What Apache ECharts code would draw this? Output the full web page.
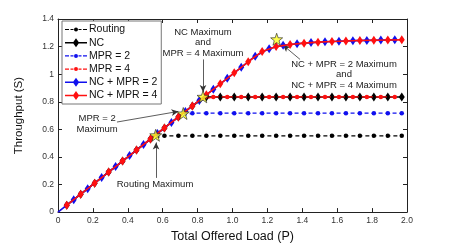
<!DOCTYPE html>
<html><head><meta charset="utf-8">
<script src="https://cdn.jsdelivr.net/npm/echarts@6/dist/echarts.min.js"></script>
<style>html,body{margin:0;padding:0;background:#fff}#c{width:450px;height:248px}</style>
</head><body><div id="c"></div>
<script>
// ---- data ----
const loadA = [0.05,0.13,0.21,0.29,0.37,0.45,0.53,0.61,0.69,0.77,0.85,0.93,1.01,1.09,1.17,1.25,1.33,1.41,1.49,1.57,1.65,1.73,1.81,1.89,1.97];
const loadB = [0,0.09,0.17,0.25,0.33,0.41,0.49,0.57,0.65,0.73,0.81,0.89,0.97,1.05,1.13,1.21,1.29,1.37,1.45,1.53,1.61,1.69,1.77,1.85,1.93];
const routing = [0.05,0.13,0.21,0.29,0.37,0.45,0.53,0.553,0.553,0.553,0.553,0.553,0.553,0.553,0.553,0.553,0.553,0.553,0.553,0.553,0.553,0.553,0.553,0.553,0.553];
const nc      = [0.05,0.13,0.21,0.29,0.37,0.45,0.53,0.61,0.69,0.77,0.835,0.835,0.835,0.835,0.835,0.835,0.835,0.835,0.835,0.835,0.835,0.835,0.835,0.835,0.835];
const mpr2    = [0.05,0.13,0.21,0.29,0.37,0.45,0.53,0.61,0.69,0.717,0.717,0.717,0.717,0.717,0.717,0.717,0.717,0.717,0.717,0.717,0.717,0.717,0.717,0.717,0.717];
const mpr4    = [0,0.09,0.17,0.25,0.33,0.41,0.49,0.57,0.65,0.73,0.81,0.835,0.835,0.835,0.835,0.835,0.835,0.835,0.835,0.835,0.835,0.835,0.835,0.835,0.835];
const ncMpr2  = [0,0.09,0.17,0.25,0.33,0.41,0.49,0.57,0.65,0.73,0.81,0.89,0.97,1.05,1.13,1.185,1.21,1.221,1.229,1.235,1.239,1.243,1.245,1.247,1.249];
const ncMpr4  = [0.05,0.13,0.21,0.29,0.37,0.45,0.53,0.61,0.69,0.77,0.85,0.93,1.01,1.09,1.165,1.20,1.215,1.225,1.232,1.237,1.241,1.244,1.246,1.248,1.249];
const maxPoints = [[0.56,0.557],[0.718,0.715],[0.831,0.836],[1.253,1.253]];
const xTickLabels = ['0','0.2','0.4','0.6','0.8','1.0','1.2','1.4','1.6','1.8','2.0'];
const yTickLabels = ['0','0.2','0.4','0.6','0.8','1','1.2','1.4'];
const seriesNames = ['Routing','NC','MPR = 2','MPR = 4','NC + MPR = 2','NC + MPR = 4'];
const annotations = [
  {text:'NC Maximum\nand\nMPR = 4 Maximum', at:[0.831,1.229], from:[0.831,1.107], to:[0.831,0.87]},
  {text:'NC + MPR = 2 Maximum\nand\nNC + MPR = 4 Maximum', at:[1.639,0.995], from:[1.387,1.107], to:[1.289,1.211]},
  {text:'MPR = 2\nMaximum', at:[0.224,0.639], from:[0.338,0.653], to:[0.69,0.73]},
  {text:'Routing Maximum', at:[0.556,0.199], from:[0.562,0.248], to:[0.562,0.505]}
];
// ---- chart ----
const FONT = 'Liberation Sans';
const pair = (xs, ys) => xs.map((x,i)=> x === 0 ? {value:[x, ys[i]], symbol:'none'} : [x, ys[i]]);
const STAR = 'path://M0,-10 L2.35,-3.24 L9.51,-3.09 L3.8,1.24 L5.88,8.09 L0,4 L-5.88,8.09 L-3.8,1.24 L-9.51,-3.09 L-2.35,-3.24 Z';
const BOX = 'M0,0 L0.01,0 Z M22,10 L21.99,10 Z ';
const ICON_DASH = 'path://' + BOX + 'M0,4.4 L4,4.4 L4,5.6 L0,5.6 Z M5.5,4.4 L8.5,4.4 L8.5,5.6 L5.5,5.6 Z M13.5,4.4 L16.5,4.4 L16.5,5.6 L13.5,5.6 Z M18,4.4 L22,4.4 L22,5.6 L18,5.6 Z M13,5 A2,2 0 1,1 9,5 A2,2 0 1,1 13,5 Z';
const ICON_SOLID = 'path://' + BOX + 'M0,4.2 L22,4.2 L22,5.8 L0,5.8 Z M11,0.5 L14.2,5 L11,9.5 L7.8,5 Z';
const chart = echarts.init(document.getElementById('c'), null, {renderer:'canvas'});
function lineSeries(name, data, color, dashed, symbol, size, z){
  return {name, type:'line', data, z, symbol, symbolSize:size, showSymbol:true,
    lineStyle:{color, width: dashed?1.2:1.6, type: dashed?[4,3]:'solid'},
    itemStyle:{color, borderWidth:0}, animation:false, silent:true};
}
const axisCommon = {
  axisLine:{show:true, onZero:false, lineStyle:{color:'#222', width:1}},
  axisTick:{show:true, inside:true, length:4, lineStyle:{color:'#222'}},
  splitLine:{show:false}
};
const legendIcons = [ICON_DASH, ICON_SOLID, ICON_DASH, ICON_DASH, ICON_SOLID, ICON_SOLID];
chart.setOption({
  animation:false,
  textStyle:{fontFamily:FONT},
  grid:{left:58, right:43, top:19, bottom:28, containLabel:false},
  xAxis:[
    Object.assign({type:'value', min:0, max:2, interval:0.2, position:'bottom',
      name:'Total Offered Load (P)', nameLocation:'middle', nameGap:17,
      nameTextStyle:{fontSize:12.5, color:'#111', fontFamily:FONT},
      axisLabel:{fontSize:8.5, color:'#333', margin:4, fontFamily:FONT,
        formatter:(v)=>xTickLabels[Math.round(v/0.2)]}}, axisCommon),
    Object.assign({type:'value', min:0, max:2, interval:0.2, position:'top', axisLabel:{show:false}}, axisCommon)
  ],
  yAxis:[
    Object.assign({type:'value', min:0, max:1.4, interval:0.2, position:'left',
      name:'Throughput (S)', nameLocation:'middle', nameGap:33, nameRotate:90,
      nameTextStyle:{fontSize:11.5, color:'#111', fontFamily:FONT},
      axisLabel:{fontSize:8.5, color:'#333', margin:4, fontFamily:FONT,
        formatter:(v)=>yTickLabels[Math.round(v/0.2)]}}, axisCommon),
    Object.assign({type:'value', min:0, max:1.4, interval:0.2, position:'right', axisLabel:{show:false}}, axisCommon)
  ],
  legend:{
    orient:'vertical', left:62, top:21, width:98,
    data:seriesNames.map((n,i)=>({name:n, icon:legendIcons[i]})),
    symbolKeepAspect:false,
    backgroundColor:'#fff', borderColor:'#777', borderWidth:1,
    padding:[3,4,3,3], itemGap:2.2, itemHeight:10, itemWidth:22,
    textStyle:{fontSize:10.5, lineHeight:10, color:'#111', fontFamily:FONT, padding:[0,0,0,-3]}
  },
  series:[
    lineSeries(seriesNames[0], pair(loadA, routing), '#000', true, 'circle', 4.5, 2),
    lineSeries(seriesNames[1], pair(loadA, nc), '#000', false, 'diamond', [6,9], 3),
    lineSeries(seriesNames[2], pair(loadA, mpr2), '#1010ee', true, 'circle', 4.5, 4),
    lineSeries(seriesNames[3], pair(loadB, mpr4), '#ff1010', true, 'circle', 4.5, 5),
    lineSeries(seriesNames[4], pair(loadB, ncMpr2), '#1010ee', false, 'diamond', [6,9], 6),
    lineSeries(seriesNames[5], pair(loadA, ncMpr4), '#ff1010', false, 'diamond', [6,9], 7),
    {type:'scatter', data:maxPoints, symbol:STAR, symbolSize:12, z:10, silent:true,
     itemStyle:{color:'#ffff22', borderColor:'#222', borderWidth:0.8},
     markLine:{silent:true, symbol:['none','arrow'], symbolSize:[5,7], animation:false,
       label:{show:false}, lineStyle:{color:'#333', width:0.8, type:'solid'},
       data: annotations.map(a=>[{coord:a.from},{coord:a.to}])}}
  ]
});
const g = annotations.map(a=>{
  const p = chart.convertToPixel({gridIndex:0}, a.at);
  return {type:'text', x:p[0], y:p[1], z:20, silent:true,
    style:{text:a.text, font:'9.5px "Liberation Sans"', fill:'#222', align:'center', verticalAlign:'middle', lineHeight:10.5}};
});
chart.setOption({graphic:g});
</script></body></html>
